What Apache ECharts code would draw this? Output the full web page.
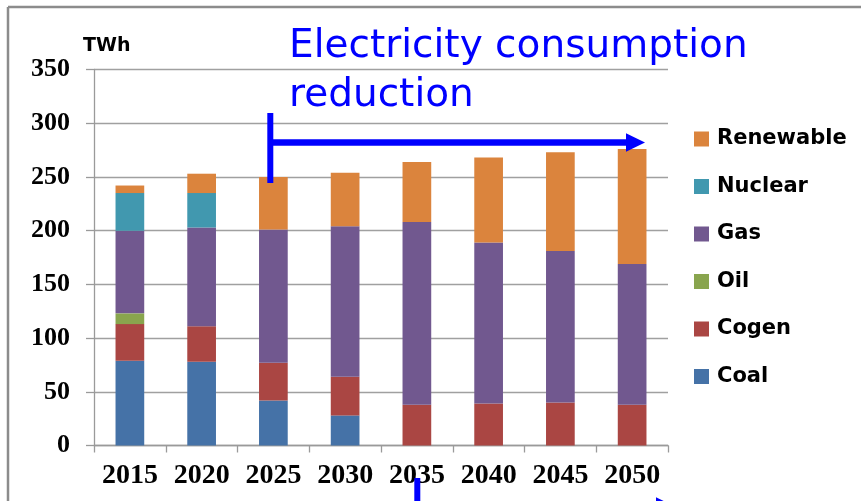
<!DOCTYPE html>
<html>
<head>
<meta charset="utf-8">
<title>Electricity generation mix</title>
<script src="https://cdn.jsdelivr.net/npm/echarts@6/dist/echarts.min.js"></script>
<style>
  html, body { margin: 0; padding: 0; background: #ffffff; }
  #chart { width: 861px; height: 501px; }
</style>
</head>
<body>
<div id="chart"></div>
<script>
// Years on the horizontal axis
const years = ['2015', '2020', '2025', '2030', '2035', '2040', '2045', '2050'];

// Generation by source, TWh (stacked bottom to top)
const coal      = [79, 78, 42, 28, 0, 0, 0, 0];
const cogen     = [34, 33, 35, 36, 38, 39, 40, 38];
const oil       = [10, 0, 0, 0, 0, 0, 0, 0];
const gas       = [77, 92, 124, 140, 170, 150, 141, 131];
const nuclear   = [35, 32, 0, 0, 0, 0, 0, 0];
const renewable = [7, 18, 49, 50, 56, 79, 92, 107];

const yTicks = { min: 0, max: 350, step: 50 };

const seriesDefs = [
  { name: 'Coal', data: coal, color: '#4572A7' },
  { name: 'Cogen', data: cogen, color: '#AA4643' },
  { name: 'Oil', data: oil, color: '#89A54E' },
  { name: 'Gas', data: gas, color: '#71588F' },
  { name: 'Nuclear', data: nuclear, color: '#4198AF' },
  { name: 'Renewable', data: renewable, color: '#DB843D' }
];

const chart = echarts.init(document.getElementById('chart'), null, { renderer: 'canvas' });

const blue = '#0000FF';
const frameGray = '#8c8c8c';

const option = {
  backgroundColor: '#ffffff',
  animation: false,
  grid: { left: 94, right: 193, top: 69.5, bottom: 55.5, containLabel: false },
  legend: {
    orient: 'vertical',
    left: 689,
    top: 123,
    data: seriesDefs.map(s => s.name).reverse(),
    icon: 'rect',
    itemWidth: 15,
    itemHeight: 15,
    itemGap: 25.5,
    selectedMode: false,
    textStyle: {
      fontFamily: 'DejaVu Sans',
      fontWeight: 'bold',
      fontSize: 21,
      color: '#000000',
      lineHeight: 22,
      padding: [0, 0, 0, 3]
    }
  },
  xAxis: {
    type: 'category',
    data: years,
    boundaryGap: true,
    axisLine: { show: true, lineStyle: { color: '#9a9a9a', width: 1.3 } },
    axisTick: { show: true, alignWithLabel: false, length: 7, lineStyle: { color: '#9a9a9a', width: 1.3 } },
    axisLabel: {
      interval: 0,
      hideOverlap: false,
      margin: 16,
      fontFamily: 'Liberation Serif',
      fontWeight: 'bold',
      fontSize: 28,
      color: '#000000'
    },
    splitLine: { show: false }
  },
  yAxis: {
    type: 'value',
    name: 'TWh',
    nameLocation: 'end',
    nameGap: 14,
    nameTextStyle: {
      fontFamily: 'DejaVu Sans',
      fontWeight: 'bold',
      fontSize: 19,
      color: '#000000',
      align: 'left',
      padding: [0, 0, 0, -11]
    },
    min: yTicks.min,
    max: yTicks.max,
    interval: yTicks.step,
    axisLine: { show: true, lineStyle: { color: '#9a9a9a', width: 1.3 } },
    axisTick: { show: true, length: 8, lineStyle: { color: '#9a9a9a', width: 1.3 } },
    axisLabel: {
      margin: 24,
      fontFamily: 'Liberation Serif',
      fontWeight: 'bold',
      fontSize: 26,
      color: '#000000'
    },
    splitLine: { show: true, lineStyle: { color: '#a0a0a0', width: 1.3 } }
  },
  series: seriesDefs.map(s => ({
    name: s.name,
    type: 'bar',
    stack: 'total',
    data: s.data,
    barWidth: '40%',
    itemStyle: { color: s.color },
    emphasis: { disabled: true }
  })),
  graphic: [
    // outer frame (top and left edges)
    { type: 'line', shape: { x1: 8, y1: 7, x2: 861, y2: 7 }, style: { stroke: frameGray, lineWidth: 2.5 }, z: 100 },
    { type: 'line', shape: { x1: 8, y1: 7, x2: 8, y2: 501 }, style: { stroke: frameGray, lineWidth: 2.5 }, z: 100 },
    // annotation heading
    {
      type: 'text', left: 289, top: 22, z: 100,
      style: {
        text: 'Electricity consumption\nreduction',
        font: '39px "DejaVu Sans"',
        fill: blue,
        lineHeight: 49
      }
    },
    // upper bracket arrow
    { type: 'line', shape: { x1: 270.3, y1: 113, x2: 270.3, y2: 183 }, style: { stroke: blue, lineWidth: 6 }, z: 100 },
    { type: 'line', shape: { x1: 270.3, y1: 142.5, x2: 628, y2: 142.5 }, style: { stroke: blue, lineWidth: 6.5 }, z: 100 },
    { type: 'polygon', shape: { points: [[626, 133.3], [645, 142.5], [626, 151.7]] }, style: { fill: blue }, z: 100 },
    // lower bracket arrow (running past the bottom edge)
    { type: 'line', shape: { x1: 417.3, y1: 478, x2: 417.3, y2: 520 }, style: { stroke: blue, lineWidth: 6 }, z: 100 },
    { type: 'line', shape: { x1: 417.3, y1: 506.5, x2: 658, y2: 506.5 }, style: { stroke: blue, lineWidth: 6.5 }, z: 100 },
    { type: 'polygon', shape: { points: [[656, 497.3], [675, 506.5], [656, 515.7]] }, style: { fill: blue }, z: 100 }
  ]
};

chart.setOption(option);
</script>
</body>
</html>
